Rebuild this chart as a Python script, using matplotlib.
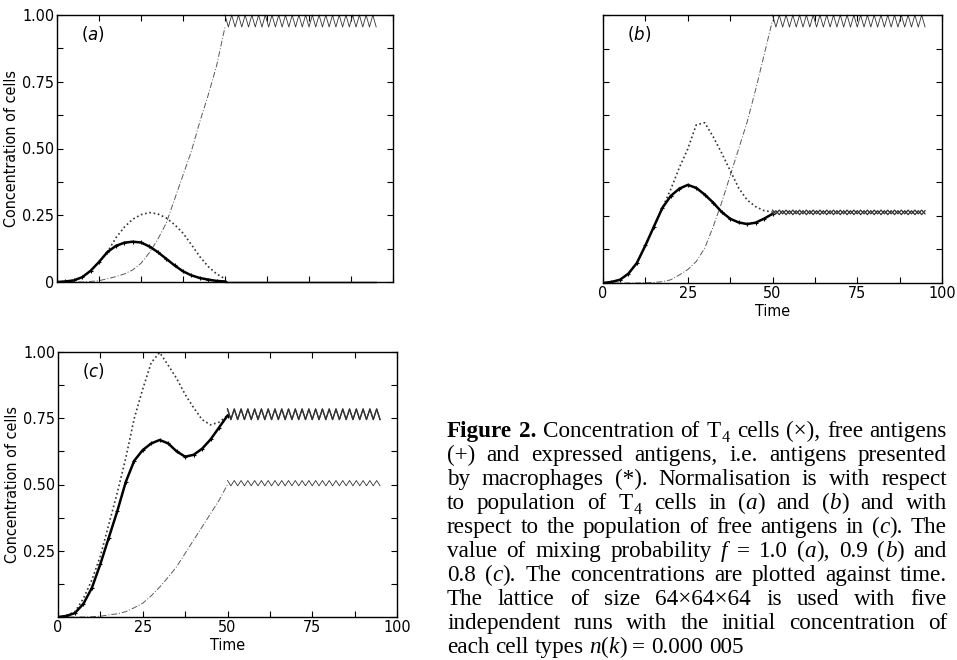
import re
import numpy as np
import matplotlib
matplotlib.use("Agg")
import matplotlib.pyplot as plt
from matplotlib import font_manager

# time samples (every 2.5 time units up to t = 50)
t = [0, 2.5, 5, 7.5, 10, 12.5, 15, 17.5, 20, 22.5, 25,
     27.5, 30, 32.5, 35, 37.5, 40, 42.5, 45, 47.5, 50]
t_plateau = (50, 95)      # after t = 50 the runs just jitter around a level

# panel (a), f = 1.0
a_rise = [0, 0, 0, 0, 0.002, 0.005, 0.012, 0.02, 0.03, 0.045, 0.07,
          0.11, 0.16, 0.22, 0.31, 0.40, 0.49, 0.60, 0.70, 0.81, 0.955]
a_plus = [0, 0.002, 0.006, 0.018, 0.042, 0.075, 0.112, 0.165, 0.205, 0.235, 0.252,
          0.26, 0.255, 0.24, 0.215, 0.183, 0.14, 0.095, 0.058, 0.03, 0.012]
a_star = [0, 0.002, 0.006, 0.018, 0.042, 0.075, 0.112, 0.135, 0.147, 0.151, 0.148,
          0.133, 0.112, 0.087, 0.062, 0.04, 0.025, 0.015, 0.009, 0.004, 0.002]
a_levels = [(1.0, 0.955), (0.0, 0.0), (0.0, 0.0)]   # (top, bottom) of rise, plus, star

# panel (b), f = 0.9
b_rise = [0, 0, 0, 0, 0, 0.001, 0.002, 0.005, 0.012, 0.03, 0.05,
          0.08, 0.13, 0.21, 0.30, 0.40, 0.50, 0.60, 0.72, 0.85, 0.98]
b_plus = [0, 0.004, 0.012, 0.035, 0.075, 0.14, 0.21, 0.28, 0.35, 0.43, 0.50,
          0.59, 0.598, 0.546, 0.485, 0.42, 0.355, 0.31, 0.285, 0.27, 0.265]
b_star = [0, 0.004, 0.012, 0.035, 0.075, 0.14, 0.21, 0.28, 0.325, 0.352, 0.366,
          0.355, 0.33, 0.30, 0.265, 0.24, 0.226, 0.22, 0.225, 0.24, 0.258]
b_levels = [(1.0, 0.955), (0.272, 0.258), (0.27, 0.255)]

# panel (c), f = 0.8
c_rise = [0, 0, 0, 0, 0.001, 0.003, 0.008, 0.012, 0.02, 0.035, 0.052,
          0.08, 0.113, 0.15, 0.19, 0.24, 0.29, 0.34, 0.39, 0.44, 0.50]
c_plus = [0, 0.005, 0.02, 0.07, 0.14, 0.23, 0.35, 0.47, 0.60, 0.75, 0.86,
          0.96, 0.998, 0.95, 0.90, 0.84, 0.79, 0.745, 0.725, 0.735, 0.76]
c_star = [0, 0.004, 0.015, 0.05, 0.11, 0.20, 0.30, 0.40, 0.51, 0.59, 0.63,
          0.655, 0.668, 0.655, 0.625, 0.605, 0.612, 0.635, 0.67, 0.715, 0.76]
c_levels = [(0.515, 0.495), (0.785, 0.745), (0.745, 0.785)]

ytick_vals = [0, 0.25, 0.5, 0.75, 1.0]
ytick_text = ["0", "0.25", "0.50", "0.75", "1.00"]
xtick_vals = [0, 25, 50, 75, 100]
xtick_text = ["0", "25", "50", "75", "100"]

caption = [
    "[b:Figure] [b:2.] Concentration of T[s:4] cells (×), free antigens",
    "(+) and expressed antigens, i.e. antigens presented",
    "by macrophages (*).  Normalisation is with respect",
    "to population of T[s:4] cells in ([i:a]) and ([i:b]) and with",
    "respect to the population of free antigens in ([i:c]).  The",
    "value of mixing probability [i:f] = 1.0 ([i:a]), 0.9 ([i:b]) and",
    "0.8 ([i:c]).  The concentrations are plotted against time.",
    "The lattice of size 64×64×64 is used with five",
    "independent runs with the initial concentration of",
    "each cell types [i:n]([i:k]) = 0.000 005",
]

# narrow sans for the axes, like the old typeset figure
fonts = font_manager.fontManager.ttflist
names = {f.name for f in fonts}
if "Liberation Sans Narrow" in names:
    sans = dict(family="Liberation Sans Narrow")
elif any(f.name == "DejaVu Sans" and "condensed" in str(f.stretch) for f in fonts):
    sans = dict(family="DejaVu Sans", fontstretch="condensed")
else:
    sans = dict(family="DejaVu Sans")
tick_size = 11.5

W, H = 957, 660
fig = plt.figure(figsize=(W / 100, H / 100), dpi=100)


def px_axes(l, t_, r, b):
    return fig.add_axes([l / W, 1 - b / H, (r - l) / W, (b - t_) / H])


def zigzag(top, bottom, phase=0):
    tt = np.arange(t_plateau[0], t_plateau[1] + 0.01, 1.0)
    yy = np.where((np.arange(len(tt)) + phase) % 2 == 0, top, bottom)
    return tt, yy


def panel(ax, rise, plus, star, levels, tag, xlab, ylab, show_y0):
    ax.plot(t, rise, color="0.35", lw=0.7, ls=(0, (6, 2, 1, 2)))
    ax.plot(t, plus, color="0.2", lw=1.2, ls=(0, (1, 1.6)))
    ax.plot(t, star, color="black", lw=1.8, marker="+", ms=3, mew=0.8)
    for k, (top, bot) in enumerate(levels):
        tt, yy = zigzag(top, bot, phase=1 if k == 2 else 0)
        lw = 0.6 if k == 0 else 0.9
        ax.plot(tt, yy, color="0.2", lw=lw, clip_on=False)
    ax.set_xlim(0, 100)
    ax.set_ylim(0, 1.0)
    ax.set_xticks(xtick_vals)
    ax.set_xticks([12.5, 37.5, 62.5, 87.5], minor=True)
    ax.set_yticks(ytick_vals)
    ax.set_yticks([0.125, 0.375, 0.625, 0.875], minor=True)
    if xlab:
        ax.set_xticklabels(xtick_text, fontsize=tick_size, **sans)
        ax.set_xlabel("Time", fontsize=tick_size, labelpad=2, **sans)
    else:
        ax.set_xticklabels([])
    if ylab:
        labs = list(ytick_text)
        if not show_y0:
            labs[0] = ""
        ax.set_yticklabels(labs, fontsize=tick_size, **sans)
        ax.set_ylabel("Concentration of cells", fontsize=tick_size, labelpad=2, **sans)
    else:
        ax.set_yticklabels([])
    ax.tick_params(which="both", direction="in", top=True, right=True,
                   length=4, width=0.8, pad=2)
    for s in ax.spines.values():
        s.set_linewidth(1.0)
    ax.text(0.07, 0.93, r"$(\mathit{%s})$" % tag, transform=ax.transAxes,
            fontsize=12, va="center", ha="left")


ax_a = px_axes(57, 15, 393, 282)
ax_b = px_axes(603, 15, 942, 283)
ax_c = px_axes(58, 352, 397, 617)
panel(ax_a, a_rise, a_plus, a_star, a_levels, "a", False, True, True)
panel(ax_b, b_rise, b_plus, b_star, b_levels, "b", True, False, False)
panel(ax_c, c_rise, c_plus, c_star, c_levels, "c", True, True, False)

# ---- caption, justified to the column -------------------------------------
renderer = fig.canvas.get_renderer()
serif = "Liberation Serif"
col_left, col_right = 447, 947
first_base, pitch = 437, 24.0


def words_of(line):
    out = []
    for word in line.split(" "):
        if word == "":
            continue
        segs = []
        for m in re.finditer(r"\[(\w):([^\]]*)\]|([^\[]+)", word):
            if m.group(3):
                segs.append((m.group(3), "r"))
            else:
                segs.append((m.group(2), m.group(1)))
        out.append(segs)
    return out


def seg_props(style, size):
    p = dict(family=serif, fontsize=size)
    if style == "i":
        p["style"] = "italic"
    elif style == "b":
        p["weight"] = "bold"
    elif style == "s":
        p["fontsize"] = size * 0.7
    return p


def seg_width(text, style, size):
    tx = fig.text(0, 0, text, **seg_props(style, size))
    w = tx.get_window_extent(renderer).width
    tx.remove()
    return w + (1.5 if style == "s" else 0)


def word_width(segs, size):
    return sum(seg_width(s, st, size) for s, st in segs)


lines = [words_of(l) for l in caption]
base = 10.0
space = seg_width("a a", "r", base) - 2 * seg_width("a", "r", base)
natural = [sum(word_width(w, base) for w in ws) + space * (len(ws) - 1) for ws in lines]
cap_size = base * (col_right - col_left - 6) / max(natural)

for i, ws in enumerate(lines):
    y = first_base + i * pitch
    widths = [word_width(w, cap_size) for w in ws]
    last = i == len(lines) - 1
    if last or len(ws) == 1:
        gap = space * cap_size / base
    else:
        gap = (col_right - col_left - sum(widths)) / (len(ws) - 1)
    x = col_left
    for w, wd in zip(ws, widths):
        xs = x
        for s, st in w:
            dy = 0.2 * cap_size * 100 / 72 if st == "s" else 0
            fig.text((xs + (1.5 if st == "s" else 0)) / W, 1 - (y + dy) / H, s,
                     va="baseline", ha="left", **seg_props(st, cap_size))
            xs += seg_width(s, st, cap_size)
        x += wd + gap

fig.savefig("out.png", dpi=100)
